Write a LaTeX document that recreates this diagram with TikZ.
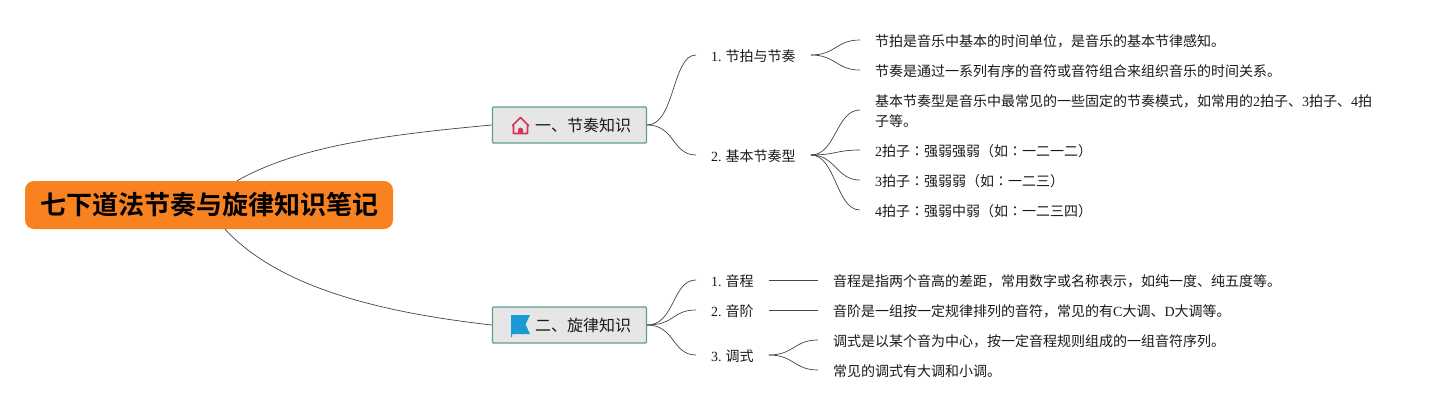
\documentclass[tikz,border=0pt]{standalone}
\usepackage{fontspec}
\setmainfont{Liberation Serif}
\newfontfamily\cjk[BoldFont={Noto Sans CJK SC Bold}]{Noto Sans CJK SC}
\newfontfamily\cjkcolon{Noto Sans CJK TC}
\newcommand{\colonmark}{{\cjkcolon ：}}
\newcommand{\numgap}{\hspace{4pt}}
\definecolor{lineC}{HTML}{444444}
\definecolor{rootC}{HTML}{F8821F}
\definecolor{boxC}{HTML}{E6E6E6}
\definecolor{edgeC}{HTML}{5F9E8C}
\definecolor{houseC}{HTML}{D9335C}
\definecolor{flagC}{HTML}{1B9AD6}
\tikzset{
  link/.style={draw=lineC,line width=0.7pt},
  rootbox/.style={fill=rootC,rounded corners=9pt,minimum width=368pt,minimum height=48pt,
    inner sep=0pt,font=\fontsize{26}{30}\selectfont\cjk\bfseries},
  branchbox/.style={draw=edgeC,fill=boxC,line width=1.1pt,rounded corners=1pt,minimum width=154pt,
    minimum height=36pt,inner sep=0pt,text=black!90,font=\fontsize{16}{20}\selectfont\cjk},
  subitem/.style={anchor=west,inner xsep=15pt,inner ysep=1pt,text=black!90,font=\fontsize{14}{20}\selectfont},
  leafitem/.style={anchor=west,align=left,inner xsep=15pt,inner ysep=1pt,text=black!90,font=\fontsize{14}{20}\selectfont}
}
\begin{document}
\begin{tikzpicture}[x=1pt,y=-1pt]
\useasboundingbox (0,0) rectangle (1435,410);

\node[rootbox] (root) at (209,205) {七下道法节奏与旋律知识笔记};
\node[branchbox] (rhythm) at (569.5,125) {\hspace*{27pt}一、节奏知识};
\node[branchbox] (melody) at (569.5,325) {\hspace*{27pt}二、旋律知识};

% first branch
\node[subitem] (beatsub) at (696,56) {1.\numgap{\cjk 节拍与节奏}};
\node[subitem] (typesub) at (696,156) {2.\numgap{\cjk 基本节奏型}};
\node[leafitem] (beatA) at (860,41) {\cjk 节拍是音乐中基本的时间单位，是音乐的基本节律感知。};
\node[leafitem] (beatB) at (860,71) {\cjk 节奏是通过一系列有序的音符或音符组合来组织音乐的时间关系。};
\node[leafitem] (typeA) at (860,111) {{\cjk 基本节奏型是音乐中最常见的一些固定的节奏模式，如常用的}2{\cjk 拍子、}3{\cjk 拍子、}4{\cjk 拍}\\{\cjk 子等。}};
\node[leafitem] (typeB) at (860,151) {2{\cjk 拍子}\colonmark{\cjk 强弱强弱（如}\colonmark{\cjk 一二一二）}};
\node[leafitem] (typeC) at (860,181) {3{\cjk 拍子}\colonmark{\cjk 强弱弱（如}\colonmark{\cjk 一二三）}};
\node[leafitem] (typeD) at (860,211) {4{\cjk 拍子}\colonmark{\cjk 强弱中弱（如}\colonmark{\cjk 一二三四）}};

% second branch
\node[subitem] (pitchsub) at (696,281) {1.\numgap{\cjk 音程}};
\node[subitem] (scalesub) at (696,311) {2.\numgap{\cjk 音阶}};
\node[subitem] (modesub) at (696,356) {3.\numgap{\cjk 调式}};
\node[leafitem] (pitchA) at (818,281) {\cjk 音程是指两个音高的差距，常用数字或名称表示，如纯一度、纯五度等。};
\node[leafitem] (scaleA) at (818,311) {{\cjk 音阶是一组按一定规律排列的音符，常见的有}C{\cjk 大调、}D{\cjk 大调等。}};
\node[leafitem] (modeA) at (818,341) {\cjk 调式是以某个音为中心，按一定音程规则组成的一组音符序列。};
\node[leafitem] (modeB) at (818,371) {\cjk 常见的调式有大调和小调。};

% root links
\draw[link] ([xshift=28pt]root.north) .. controls +(60,-34) and +(-110,10) .. (rhythm.west);
\draw[link] ([xshift=16pt]root.south) .. controls +(50,54) and +(-125,-14) .. (melody.west);

\foreach \kid in {beatsub,typesub}
  \draw[link] (rhythm.east) .. controls +(28,0) and +(-24,0) .. ([yshift=1pt]\kid.west);
\foreach \kid in {pitchsub,scalesub,modesub}
  \draw[link] (melody.east) .. controls +(28,0) and +(-24,0) .. ([yshift=1pt]\kid.west);
\foreach \kid in {beatA,beatB}
  \draw[link] ([yshift=1pt]beatsub.east) .. controls +(25,0) and +(-24,0) .. ([yshift=1pt]\kid.west);
\foreach \kid in {typeA,typeB,typeC,typeD}
  \draw[link] ([yshift=1pt]typesub.east) .. controls +(25,0) and +(-24,0) .. ([yshift=1pt]\kid.west);
\draw[link] ([yshift=1pt]pitchsub.east) -- ([yshift=1pt]pitchA.west);
\draw[link] ([yshift=1pt]scalesub.east) -- ([yshift=1pt]scaleA.west);
\foreach \kid in {modeA,modeB}
  \draw[link] ([yshift=1pt]modesub.east) .. controls +(25,0) and +(-24,0) .. ([yshift=1pt]\kid.west);

% house icon
\draw[houseC,line width=1.6pt,line join=round] (512.5,125.5) -- (520.5,117.5) -- (528.5,125.5) -- (527.5,126) -- (527.5,133.5) -- (513.5,133.5) -- (513.5,126) -- cycle;
\fill[houseC] (518,133.5) -- (518,130) arc[start angle=180,end angle=0,radius=2.5pt] -- (523,133.5) -- cycle;

% flag icon
\fill[flagC] (511,315) -- (530,315) -- (525.5,324.5) -- (530,334) -- (512,334) -- (512,337) -- (511,337) -- cycle;
\end{tikzpicture}
\end{document}
